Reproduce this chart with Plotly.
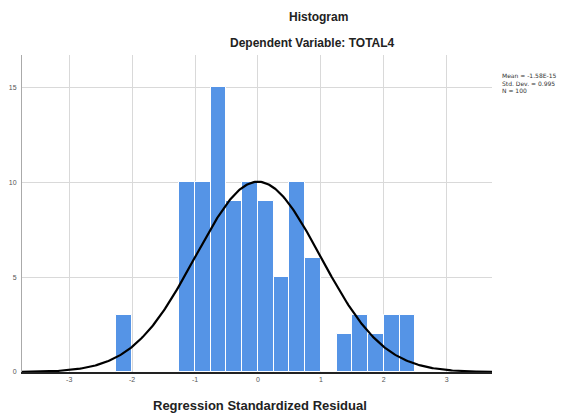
import numpy as np
import plotly.graph_objects as go

# Bin edges (left) and counts (bin width 0.25)
bin_left = [-2.25, -1.25, -1.0, -0.75, -0.5, -0.25, 0.0, 0.25, 0.5, 0.75,
            1.25, 1.5, 1.75, 2.0, 2.25]
counts = [3, 10, 10, 15, 9, 10, 9, 5, 10, 6, 2, 3, 2, 3, 3]
bin_width = 0.25

mean_val = -1.58e-15
std_val = 0.995
n_val = 100

x_ticks = [-3, -2, -1, 0, 1, 2, 3]
y_ticks = [0, 5, 10, 15]

centers = [b + bin_width / 2 for b in bin_left]

xs = np.linspace(-3.75, 3.75, 400)
ys = n_val * bin_width / (std_val * np.sqrt(2 * np.pi)) * np.exp(-0.5 * ((xs - mean_val) / std_val) ** 2)

# page has 8px body margin; compensate
OFF = 8
W, H = 571 - OFF, 416 - OFF
L, R, T, B = 22 - OFF, 79, 55 - OFF, 44
plot_w = W - L - R
plot_h = H - T - B


def px_x(page_x):
    return (page_x - OFF - L) / plot_w


def px_y(page_y):
    return 1 - (page_y - OFF - T) / plot_h


fig = go.Figure()
fig.add_trace(go.Bar(
    x=centers, y=counts, width=[bin_width] * len(centers),
    marker=dict(color="#5594E6", line=dict(color="white", width=1)),
    showlegend=False, hoverinfo="skip"))
fig.add_trace(go.Scatter(
    x=xs, y=ys, mode="lines", line=dict(color="black", width=2.2),
    showlegend=False, hoverinfo="skip"))

stats_lines = ["Mean = -1.58E-15", "Std. Dev. = 0.995", "N = 100"]
annotations = [
    dict(text="<b>Histogram</b>", x=px_x(318), xref="paper", y=px_y(17), yref="paper",
         showarrow=False, font=dict(size=12, color="#222"), yanchor="middle"),
    dict(text="<b>Dependent Variable: TOTAL4</b>", x=px_x(312), xref="paper", y=px_y(43), yref="paper",
         showarrow=False, font=dict(size=12, color="#222"), yanchor="middle"),
    dict(text="<b>Regression Standardized Residual</b>", x=px_x(260), xref="paper", y=px_y(405), yref="paper",
         showarrow=False, font=dict(size=13, color="#222"), yanchor="middle"),
]
for i, s in enumerate(stats_lines):
    annotations.append(dict(
        text=s, x=px_x(500), xref="paper", y=px_y(75 + 8 * i), yref="paper",
        xanchor="left", yanchor="middle", showarrow=False,
        font=dict(size=6, color="#333", family="DejaVu Sans")))

fig.update_layout(
    width=W, height=H,
    margin=dict(l=L, r=R, t=T, b=B, autoexpand=False),
    paper_bgcolor="white", plot_bgcolor="white",
    font=dict(family="Arial, Liberation Sans, sans-serif"),
    bargap=0,
    annotations=annotations,
)

fig.update_xaxes(
    range=[-3.75, 3.72], tickvals=x_ticks, ticktext=[str(v) for v in x_ticks],
    showgrid=True, gridcolor="#d9d9d9", gridwidth=1, zeroline=False,
    showline=True, linecolor="#222", linewidth=1.5, automargin=False,
    ticks="", tickfont=dict(size=7, color="#555"))
fig.update_yaxes(
    range=[0, 16.7], tickvals=y_ticks, ticktext=[str(v) for v in y_ticks],
    showgrid=True, gridcolor="#d9d9d9", gridwidth=1, zeroline=False,
    showline=True, linecolor="#aaaaaa", linewidth=1, automargin=False,
    ticks="", tickfont=dict(size=7, color="#555"), ticklabelstandoff=3)

fig.write_html("out.html")
